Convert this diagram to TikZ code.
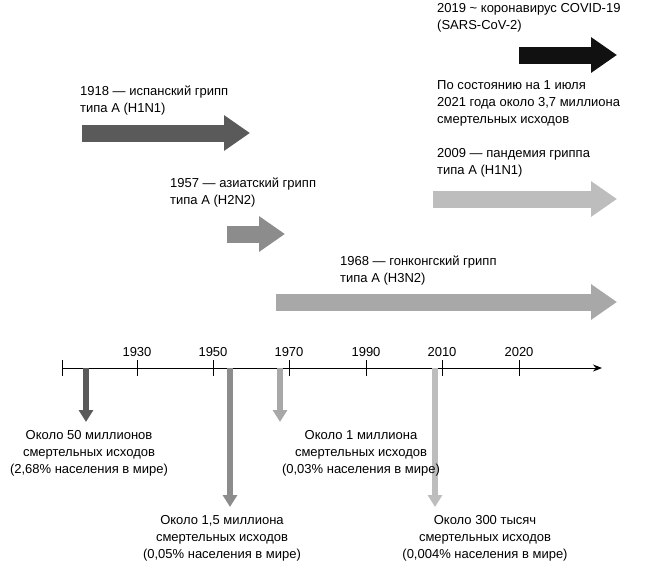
\documentclass[tikz,border=0pt]{standalone}
\usepackage{fontspec}
\setmainfont{Liberation Sans}
\usetikzlibrary{arrows.meta, positioning}
\definecolor{c18}{HTML}{5A5A5A}
\definecolor{c57}{HTML}{8C8C8C}
\definecolor{c68}{HTML}{A8A8A8}
\definecolor{c09}{HTML}{BDBDBD}
\definecolor{c19}{HTML}{111111}
\tikzset{
  flu/.style={line width=17pt, -{Triangle[length=26pt,width=34pt]}},
  drop/.style={line width=6pt, -{Triangle[length=12pt,width=14pt]}},
  lbl/.style={align=left, anchor=north west, inner sep=0pt, font=\fontsize{13}{17}\selectfont},
  note/.style={align=center, anchor=north, inner sep=0pt, font=\fontsize{13}{17}\selectfont},
  year/.style={anchor=south, inner sep=0pt, font=\fontsize{13}{14}\selectfont}
}
\begin{document}
\begin{tikzpicture}[x=1pt, y=-1pt]
\useasboundingbox (0,0) rectangle (645,570);

% pandemic arrows
\coordinate (s18) at (82,133);  \coordinate (e18) at (250,133);
\coordinate (s57) at (227,234); \coordinate (e57) at (285,234);
\coordinate (s68) at (276,302); \coordinate (e68) at (617,302);
\coordinate (s09) at (433,199); \coordinate (e09) at (617,199);
\coordinate (s19) at (519,55);  \coordinate (e19) at (617,55);
\draw[flu, c18] (s18) -- (e18);
\draw[flu, c57] (s57) -- (e57);
\draw[flu, c68] (s68) -- (e68);
\draw[flu, c09] (s09) -- (e09);
\draw[flu, c19] (s19) -- (e19);

\node[lbl] (t18) at (80,86) {1918 — испанский грипп\\типа A (H1N1)};
\node[lbl] (t57) at (170,178) {1957 — азиатский грипп\\типа A (H2N2)};
\node[lbl] (t68) at (340,256) {1968 — гонконгский грипп\\типа A (H3N2)};
\node[lbl] (t09) at (437,148) {2009 — пандемия гриппа\\типа A (H1N1)};
\node[lbl] (t19) at (437,3) {2019 \textasciitilde{} коронавирус COVID-19\\(SARS-CoV-2)};
\node[lbl] (t21) at (437,80) {По состоянию на 1 июля\\2021 года около 3,7 миллиона\\смертельных исходов};

% timeline
\coordinate (a0) at (62,368);
\coordinate (a1) at (602,368);
\draw[line width=1pt, -{Stealth[length=9pt,width=7pt]}] (a0) -- (a1);
\draw[line width=1pt] (62,360) -- (62,376);
\foreach \x/\yr in {137/1930, 213/1950, 289/1970, 366/1990, 442/2010, 519/2020}{
  \draw[line width=1pt] (\x,360) -- (\x,376);
  \node[year] (y\yr) at (\x,357) {\yr};
}

% deaths
\coordinate (d18) at (86,368);  \coordinate (f18) at (86,422);
\coordinate (d57) at (230,368); \coordinate (f57) at (230,507);
\coordinate (d68) at (280,368); \coordinate (f68) at (280,422);
\coordinate (d09) at (435,368); \coordinate (f09) at (435,507);
\draw[drop, c18] (d18) -- (f18);
\draw[drop, c57] (d57) -- (f57);
\draw[drop, c68] (d68) -- (f68);
\draw[drop, c09] (d09) -- (f09);

\node[note] (n18) at (89,430) {Около 50 миллионов\\смертельных исходов\\(2,68\% населения в мире)};
\node[note] (n68) at (361,430) {Около 1 миллиона\\смертельных исходов\\(0,03\% населения в мире)};
\node[note] (n57) at (222,515) {Около 1,5 миллиона\\смертельных исходов\\(0,05\% населения в мире)};
\node[note] (n09) at (485,515) {Около 300 тысяч\\смертельных исходов\\(0,004\% населения в мире)};
\end{tikzpicture}
\end{document}
